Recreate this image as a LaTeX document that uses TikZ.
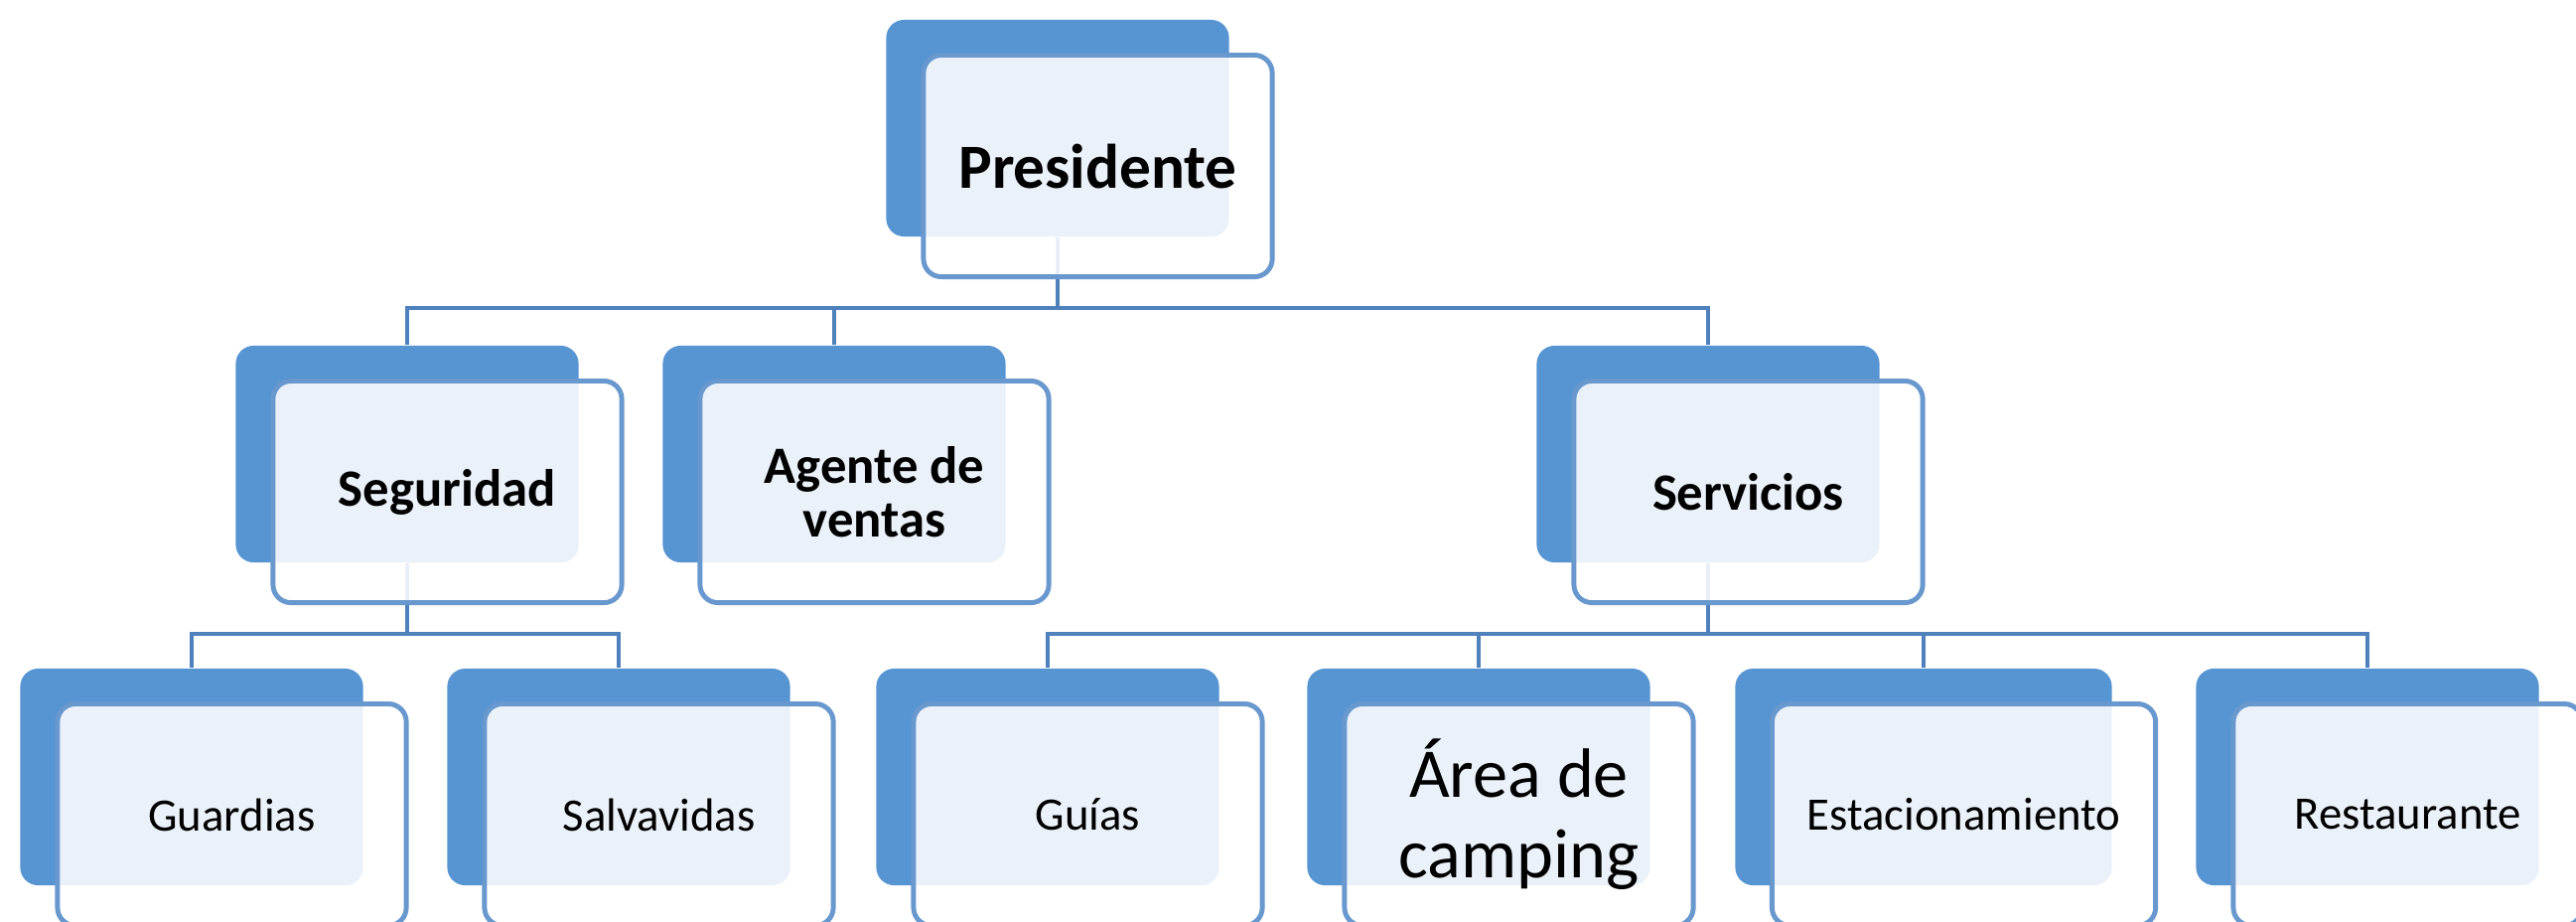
\documentclass[tikz,border=0pt]{standalone}
\usepackage{fontspec}
\setmainfont{Carlito}
\usepackage{tikz}
\usetikzlibrary{calc}
\definecolor{backblue}{RGB}{86,148,210}
\definecolor{edgeblue}{RGB}{104,152,206}
\definecolor{linkblue}{RGB}{79,129,189}
\tikzset{
  backbox/.style={rectangle, rounded corners=0.18cm, fill=backblue, inner sep=0pt,
    minimum width=3.45cm, minimum height=2.18cm},
  frontbox/.style={rectangle, rounded corners=0.18cm, draw=edgeblue, line width=1.4pt,
    fill=white, fill opacity=0.88, text opacity=1, align=center, inner sep=2pt,
    minimum width=3.51cm, minimum height=2.23cm, xshift=4.05mm, yshift=-3.8mm},
  link/.style={draw=linkblue, line width=1.4pt},
  boss/.style={font=\fontsize{18}{20}\selectfont\bfseries},
  head/.style={font=\fontsize{15}{15.5}\selectfont\bfseries},
  unit/.style={font=\fontsize{13.3}{15}\selectfont},
}

\begin{document}
\begin{tikzpicture}[x=0.01cm, y=-0.01cm]
\useasboundingbox (0,0) rectangle (2594,927);
% back plates
\node[backbox] (pres-b) at (1065,129) {};
\foreach \n/\x in {seg/410, age/840, ser/1720}
  \node[backbox] (\n-b) at (\x,457) {};
\foreach \n/\x in {gua/193, sal/623, gui/1055, are/1489, res/2384}
  \node[backbox] (\n-b) at (\x,782) {};
\node[backbox, minimum width=3.79cm] (est-b) at (1937,782) {};
% links
\coordinate (bus1) at (0,310);
\coordinate (bus2) at (0,638);
\foreach \c in {seg,age,ser}
  \draw[link] (pres-b.south) -- (pres-b.south |- bus1) -| (\c-b.north);
\foreach \c in {gua,sal}
  \draw[link] (seg-b.south) -- (seg-b.south |- bus2) -| (\c-b.north);
\foreach \c in {gui,are,est,res}
  \draw[link] (ser-b.south) -- (ser-b.south |- bus2) -| (\c-b.north);
% front plates
\node[frontbox, boss] (pres) at (pres-b) {Presidente};
\node[frontbox, head] (seg) at (seg-b) {Seguridad};
\node[frontbox, head] (age) at (age-b) {Agente de\\ventas};
\node[frontbox, head] (ser) at (ser-b) {Servicios};
\node[frontbox, unit] (gua) at (gua-b) {Guardias};
\node[frontbox, unit] (sal) at (sal-b) {Salvavidas};
\node[frontbox, unit] (gui) at (gui-b) {Guías};
\node[frontbox, font=\fontsize{20}{23}\selectfont] (are) at (are-b) {Área de\\camping};
\node[frontbox, unit, minimum width=3.86cm] (est) at (est-b) {Estacionamiento};
\node[frontbox, unit] (res) at (res-b) {Restaurante};
\end{tikzpicture}
\end{document}
